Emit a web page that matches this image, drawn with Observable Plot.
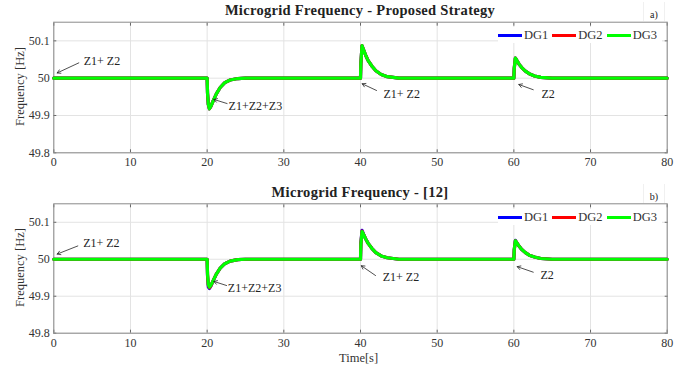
<!DOCTYPE html>
<html><head><meta charset="utf-8">
<script src="https://cdn.jsdelivr.net/npm/d3@7"></script>
<script src="https://cdn.jsdelivr.net/npm/@observablehq/plot@0.6"></script>
<style>
body{margin:0;background:#fff;}
#wrap{position:relative;width:694px;height:369px;font-family:"Liberation Serif","Times New Roman","DejaVu Serif",serif;overflow:hidden;}
.panel{position:absolute;left:0;width:694px;}
.title{position:absolute;left:53px;width:614px;text-align:center;font-weight:bold;font-size:14.5px;color:#222;letter-spacing:0.3px;}
.tag{position:absolute;left:643px;width:20px;height:19px;border-left:1px solid #f0f0f0;border-right:1px solid #f0f0f0;font-size:10px;line-height:26px;text-align:center;color:#222;}
.legend{position:absolute;left:498px;width:164px;height:16px;background:#fff;font-size:12.5px;color:#333;display:flex;align-items:center;}
.legend span.l{display:inline-block;width:24px;height:3px;margin-right:2px;}
.legend span.t{margin-right:4px;}
.ylab{position:absolute;left:12px;width:16px;font-size:12.5px;color:#333;}
.ylab div{transform:rotate(-90deg);white-space:nowrap;position:absolute;left:-40px;top:0;width:96px;text-align:center;}
.xlab{position:absolute;left:339px;top:351px;font-size:12.5px;color:#333;}
</style></head>
<body><div id="wrap"></div>
<script>
// ---- data ----
const series = ["DG1", "DG2", "DG3"];
const colors = ["#0000ff", "#ff0000", "#00ff00"];
const time = [0, 20, 20.05, 20.15, 20.3, 20.5, 20.8, 21.2, 21.7, 22.3, 23, 24, 25,
  40, 40.05, 40.2, 40.4, 40.7, 41, 41.5, 42, 42.7, 43.5, 45,
  60, 60.05, 60.2, 60.4, 60.7, 61, 61.5, 62, 62.7, 63.5, 65,
  80];
// Panel a) Proposed strategy
const dg1A = [50, 50, 49.96, 49.93, 49.918, 49.925, 49.94, 49.958, 49.975, 49.988, 49.995, 49.999, 50,
  50, 50.04, 50.087, 50.076, 50.06, 50.047, 50.032, 50.02, 50.01, 50.004, 50,
  50, 50.026, 50.054, 50.047, 50.037, 50.029, 50.019, 50.012, 50.006, 50.002, 50,
  50];
const dg2A = [50, 50, 49.96, 49.93, 49.918, 49.925, 49.94, 49.958, 49.975, 49.988, 49.995, 49.999, 50,
  50, 50.04, 50.087, 50.076, 50.06, 50.047, 50.032, 50.02, 50.01, 50.004, 50,
  50, 50.026, 50.054, 50.047, 50.037, 50.029, 50.019, 50.012, 50.006, 50.002, 50,
  50];
const dg3A = [50, 50, 49.96, 49.93, 49.918, 49.925, 49.94, 49.958, 49.975, 49.988, 49.995, 49.999, 50,
  50, 50.04, 50.087, 50.076, 50.06, 50.047, 50.032, 50.02, 50.01, 50.004, 50,
  50, 50.026, 50.054, 50.047, 50.037, 50.029, 50.019, 50.012, 50.006, 50.002, 50,
  50];
// Panel b) [12]
const dg1B = [50, 50, 49.955, 49.925, 49.921, 49.928, 49.942, 49.96, 49.976, 49.988, 49.995, 49.999, 50,
  50, 50.045, 50.078, 50.068, 50.054, 50.043, 50.029, 50.018, 50.009, 50.004, 50,
  50, 50.025, 50.051, 50.044, 50.035, 50.027, 50.018, 50.011, 50.006, 50.002, 50,
  50];
const dg2B = [50, 50, 49.958, 49.93, 49.923, 49.929, 49.943, 49.96, 49.976, 49.988, 49.995, 49.999, 50,
  50, 50.042, 50.076, 50.067, 50.054, 50.043, 50.029, 50.018, 50.009, 50.004, 50,
  50, 50.025, 50.05, 50.044, 50.035, 50.027, 50.018, 50.011, 50.006, 50.002, 50,
  50];
const dg3B = [50, 50, 49.96, 49.932, 49.925, 49.93, 49.943, 49.96, 49.976, 49.988, 49.995, 49.999, 50,
  50, 50.04, 50.075, 50.067, 50.054, 50.043, 50.029, 50.018, 50.009, 50.004, 50,
  50, 50.025, 50.05, 50.044, 50.035, 50.027, 50.018, 50.011, 50.006, 50.002, 50,
  50];
const xTicks = [0, 10, 20, 30, 40, 50, 60, 70, 80];
const yTicks = [49.8, 49.9, 50, 50.1];
const titles = ["Microgrid Frequency - Proposed Strategy", "Microgrid Frequency - [12]"];
const tags = ["a)", "b)"];
// annotations
const annLabels = ["Z1+ Z2", "Z1+Z2+Z3", "Z1+ Z2", "Z2"];
const annTextXA = [3.9, 22.8, 43.0, 63.6];
const annTextYA = [50.0445, 49.925, 49.956, 49.958];
const annTailXA = [3.26, 22.6, 42.09, 62.53];
const annTailYA = [50.041, 49.932, 49.967, 49.969];
const annHeadXA = [0.44, 20.87, 40.22, 60.65];
const annHeadYA = [50.014, 49.943, 49.985, 49.983];
const annTextXB = [3.83, 22.7, 42.9, 63.48];
const annTextYB = [50.0435, 49.922, 49.951, 49.958];
const annTailXB = [3.13, 22.53, 41.96, 62.53];
const annTailYB = [50.036, 49.929, 49.956, 49.965];
const annHeadXB = [0.44, 20.87, 40.1, 60.44];
const annHeadYB = [50.014, 49.94, 49.9825, 49.98];

// ---- drawing ----
const FONT = "'Liberation Serif', 'Times New Roman', 'DejaVu Serif', serif";
const wrap = document.getElementById("wrap");
function panel(vals, tx, ty, hx, hy, hx2, hy2, cfg) {
  const rows = [];
  series.forEach((s, i) => time.forEach((t, j) => rows.push({t, f: vals[i][j], s})));
  const anns = annLabels.map((l, i) => ({l, x: tx[i], y: ty[i], x1: hx[i], y1: hy[i], x2: hx2[i], y2: hy2[i]}));
  const svg = Plot.plot({
    width: 694, height: cfg.height,
    marginTop: cfg.mt, marginBottom: cfg.mb, marginLeft: 53.3, marginRight: 27.3,
    x: {domain: [0, 80]},
    y: {domain: [49.8, 50.15]},
    color: {domain: series, range: colors},
    style: {fontFamily: FONT, fontSize: "12px", color: "#333", background: "transparent"},
    marks: [
      Plot.gridX(xTicks, {stroke: "#e3e3e3", strokeOpacity: 1}),
      Plot.gridY(yTicks, {stroke: "#e3e3e3", strokeOpacity: 1}),
      Plot.axisX(xTicks, {tickSize: 0, tickPadding: 5, label: null, fill: "#333"}),
      Plot.axisY(yTicks, {tickSize: 0, tickPadding: 4, label: null, fill: "#333", tickFormat: d => String(+d.toFixed(2))}),
      Plot.axisX(xTicks, {anchor: "bottom", tickSize: -3, tickFormat: () => "", label: null, stroke: "#666"}),
      Plot.axisX(xTicks, {anchor: "top", tickSize: -3, tickFormat: () => "", label: null, stroke: "#666"}),
      Plot.axisY(yTicks, {anchor: "left", tickSize: -3, tickFormat: () => "", label: null, stroke: "#666"}),
      Plot.axisY(yTicks, {anchor: "right", tickSize: -3, tickFormat: () => "", label: null, stroke: "#666"}),
      Plot.frame({stroke: "#8a8a8a"}),
      Plot.line(rows, {x: "t", y: "f", z: "s", stroke: "s", strokeWidth: 3.2, curve: "linear"}),
      Plot.arrow(anns, {x1: "x1", y1: "y1", x2: "x2", y2: "y2", stroke: "#222", strokeWidth: 0.8, headLength: 7}),
      Plot.text(anns, {x: "x", y: "y", text: "l", textAnchor: "start", fill: "#222", fontSize: 12})
    ]
  });
  const div = document.createElement("div");
  div.className = "panel";
  div.style.top = cfg.top + "px";
  div.appendChild(svg);
  wrap.appendChild(div);
}
panel([dg1A, dg2A, dg3A], annTextXA, annTextYA, annTailXA, annTailYA, annHeadXA, annHeadYA,
  {top: 0, height: 180, mt: 21.7, mb: 27.7});
panel([dg1B, dg2B, dg3B], annTextXB, annTextYB, annTailXB, annTailYB, annHeadXB, annHeadYB,
  {top: 180, height: 189, mt: 23.3, mb: 36.3});

function addHTML(html) { wrap.insertAdjacentHTML("beforeend", html); }
[[2, 2, 27, 87], [184, 184, 209, 268]].forEach(([ttop, tagTop, legTop, ymid], i) => {
  addHTML(`<div class="title" style="top:${ttop}px">${titles[i]}</div>`);
  addHTML(`<div class="tag" style="top:${tagTop}px">${tags[i]}</div>`);
  addHTML(`<div class="legend" style="top:${legTop}px">` +
    series.map((s, k) => `<span class="l" style="background:${colors[k]}"></span><span class="t">${s}</span>`).join("") + `</div>`);
  addHTML(`<div class="ylab" style="top:${ymid - 8}px"><div>Frequency [Hz]</div></div>`);
});
addHTML(`<div class="xlab">Time[s]</div>`);
</script>
</body></html>
